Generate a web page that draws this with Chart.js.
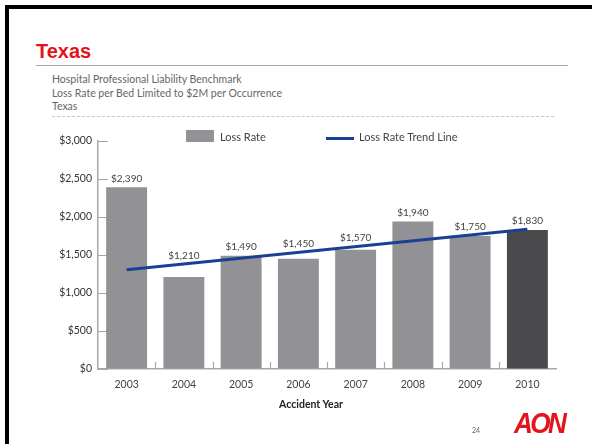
<!DOCTYPE html>
<html>
<head>
<meta charset="utf-8">
<script src="https://cdn.jsdelivr.net/npm/chart.js@4"></script>
<style>
  body { margin: 0; background: #fff; }
  #page { position: relative; width: 592px; height: 444px; overflow: hidden; font-family: Lato, "Open Sans", sans-serif; }
  .frame-top { position: absolute; left: 5px; top: 5px; width: 600px; height: 4px; background: #000; }
  .frame-left { position: absolute; left: 5px; top: 5px; width: 4px; height: 460px; background: #000; }
  .title { position: absolute; left: 36px; top: 40px; font: bold 20px "Liberation Sans", Arial, sans-serif; color: #e3141b; }
  .rule { position: absolute; left: 36px; top: 65px; width: 532px; height: 0; border-top: 1.5px solid #a8a8a8; }
  .sub { position: absolute; left: 52px; font-size: 10.5px; color: #666; line-height: 13px; }
  .dash { position: absolute; left: 52px; top: 116px; width: 502px; border-top: 1px dashed #c8c8c8; }
  .leg-box { position: absolute; left: 186px; top: 130px; width: 28px; height: 12px; background: #929296; }
  .leg-line { position: absolute; left: 326px; top: 137px; width: 28px; height: 3px; background: #1c3f96; }
  .leg-text { position: absolute; top: 130px; font-size: 11px; color: #444; line-height: 14px; }
  #wrap { position: absolute; left: 40px; top: 125px; width: 542px; height: 295px; }
  .xtitle { position: absolute; left: 211px; width: 200px; top: 397px; text-align: center; font-weight: bold; font-size: 10.5px; color: #222; line-height: 14px; }
  .pg { position: absolute; left: 472px; top: 426px; font-size: 7px; color: #666; }
  .logo { position: absolute; left: 514px; top: 406px; font: italic bold 30px "Liberation Sans", Arial, sans-serif; color: #e3141b; letter-spacing: -3px; transform: scaleX(0.87); transform-origin: left top; }
</style>
</head>
<body>
<div id="page">
  <div class="frame-top"></div>
  <div class="frame-left"></div>
  <div class="title">Texas</div>
  <div class="rule"></div>
  <div class="sub" style="top:73px">Hospital Professional Liability Benchmark</div>
  <div class="sub" style="top:87px">Loss Rate per Bed Limited to $2M per Occurrence</div>
  <div class="sub" style="top:100px">Texas</div>
  <div class="dash"></div>
  <div id="wrap"><canvas id="chart"></canvas></div>
  <div class="leg-box"></div>
  <div class="leg-text" style="left:220px">Loss Rate</div>
  <div class="leg-line"></div>
  <div class="leg-text" style="left:359px">Loss Rate Trend Line</div>
  <div class="xtitle">Accident Year</div>
  <div class="pg">24</div>
  <div class="logo">AON</div>
</div>
<script>
const years = ['2003', '2004', '2005', '2006', '2007', '2008', '2009', '2010'];
const lossRate = [2390, 1210, 1490, 1450, 1570, 1940, 1750, 1830];
// trend line read only at its two ends
const trendLine = [1305, null, null, null, null, null, null, 1840];
const yTicks = [0, 500, 1000, 1500, 2000, 2500, 3000];

const barColors = years.map((y, i) => i === years.length - 1 ? '#4a4a4c' : '#929296');
const money = v => '$' + v.toLocaleString('en-US');

const innerTicks = {
  id: 'innerTicks',
  beforeDatasetsDraw(chart) {
    const { ctx, chartArea, scales: { x, y } } = chart;
    ctx.save();
    ctx.strokeStyle = '#a8a8a8';
    ctx.lineWidth = 1.2;
    ctx.beginPath();
    yTicks.forEach(v => {
      const py = Math.round(y.getPixelForValue(v)) + 0.5;
      ctx.moveTo(chartArea.left, py);
      ctx.lineTo(chartArea.left + 10, py);
    });
    for (let i = 0; i < years.length - 1; i++) {
      const px = Math.round((x.getPixelForValue(i) + x.getPixelForValue(i + 1)) / 2) + 0.5;
      ctx.moveTo(px, chartArea.bottom);
      ctx.lineTo(px, chartArea.bottom - 7);
    }
    ctx.stroke();
    ctx.restore();
  }
};

const barLabels = {
  id: 'barLabels',
  afterDatasetsDraw(chart) {
    const { ctx } = chart;
    const bars = chart.getDatasetMeta(1).data;
    const pts = chart.getDatasetMeta(0).data;
    const a = pts[0], b = pts[pts.length - 1];
    ctx.save();
    ctx.font = '10px Lato';
    ctx.fillStyle = '#444';
    ctx.textAlign = 'center';
    ctx.textBaseline = 'middle';
    bars.forEach((bar, i) => {
      const lineY = a.y + (b.y - a.y) * (bar.x - a.x) / (b.x - a.x);
      const top = Math.min(bar.y, lineY);
      ctx.fillText(money(lossRate[i]), bar.x, top - 8.5);
    });
    ctx.restore();
  }
};

new Chart(document.getElementById('chart'), {
  data: {
    labels: years,
    datasets: [
      {
        type: 'line',
        label: 'Loss Rate Trend Line',
        data: trendLine,
        spanGaps: true,
        borderColor: '#1c3f96',
        borderWidth: 3,
        pointRadius: 0,
        order: 0
      },
      {
        type: 'bar',
        label: 'Loss Rate',
        data: lossRate,
        backgroundColor: barColors,
        barPercentage: 0.715,
        categoryPercentage: 1,
        order: 1
      }
    ]
  },
  options: {
    responsive: true,
    maintainAspectRatio: false,
    animation: false,
    layout: { padding: { top: 16, right: 26, bottom: 27, left: 0 } },
    plugins: {
      legend: { display: false },
      tooltip: { enabled: false }
    },
    scales: {
      x: {
        grid: { display: false, drawTicks: false },
        border: { color: '#a8a8a8', width: 1.5 },
        ticks: { color: '#444', font: { family: 'Lato', size: 10.5 }, padding: 9 },
        afterFit: s => { s.height = 24; }
      },
      y: {
        min: 0,
        max: 3000,
        afterBuildTicks: s => { s.ticks = yTicks.map(v => ({ value: v })); },
        grid: { drawOnChartArea: false, drawTicks: false },
        border: { color: '#a8a8a8', width: 1.5 },
        ticks: { color: '#333', font: { family: 'Lato', size: 10.5 }, padding: 6, callback: v => money(v) },
        afterFit: s => { s.width = 58; }
      }
    }
  },
  plugins: [innerTicks, barLabels]
});
</script>
</body>
</html>
